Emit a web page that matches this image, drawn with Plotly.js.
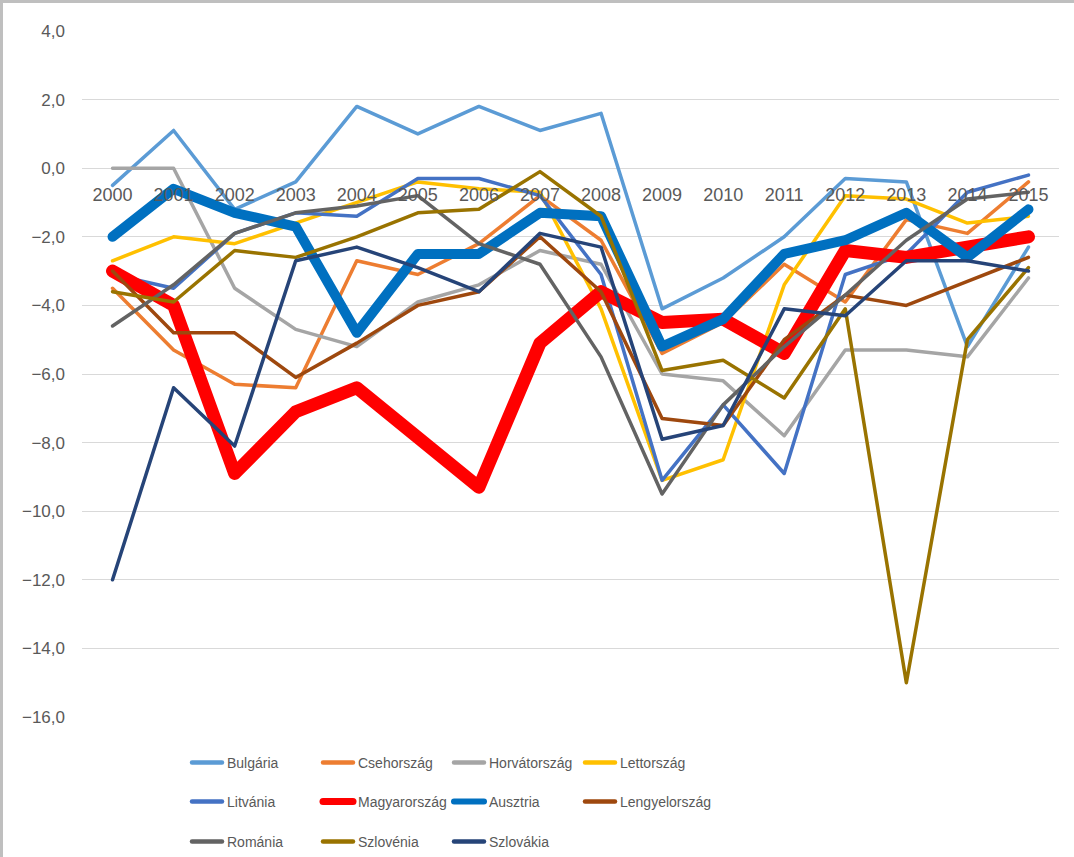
<!DOCTYPE html>
<html><head><meta charset="utf-8">
<script src="https://cdn.plot.ly/plotly-3.0.1.min.js"></script>
<style>
html,body{margin:0;padding:0;background:#fff;}
#wrap{position:relative;width:1074px;height:857px;}
#chart{position:absolute;left:0;top:0;width:1074px;height:857px;}
.bL{position:absolute;left:0;top:0;width:3px;height:857px;background:#BFBFBF;}
.bT{position:absolute;left:0;top:0;width:1074px;height:3px;background:#BFBFBF;}
.js-line{stroke-linecap:round !important;stroke-linejoin:round !important;}
.legendlines path{stroke-linecap:round !important;stroke-width:4.5px !important;}
.legendlines path[style*="rgb(255, 0, 0)"]{stroke-width:7px !important;}
.legendlines path[style*="rgb(0, 112, 192)"]{stroke-width:6px !important;}
</style></head>
<body><div id="wrap"><div id="chart"></div><div class="bL"></div><div class="bT"></div></div>
<script>
const years = ['2000','2001','2002','2003','2004','2005','2006','2007','2008','2009','2010','2011','2012','2013','2014','2015'];
const bulgaria  = [-0.5, 1.1, -1.2, -0.4, 1.8, 1.0, 1.8, 1.1, 1.6, -4.1, -3.2, -2.0, -0.3, -0.4, -5.2, -2.3];
const cseh      = [-3.5, -5.3, -6.3, -6.4, -2.7, -3.1, -2.2, -0.8, -2.1, -5.4, -4.5, -2.8, -3.9, -1.5, -1.9, -0.4];
const horvat    = [0.0, 0.0, -3.5, -4.7, -5.2, -3.9, -3.4, -2.4, -2.8, -6.0, -6.2, -7.8, -5.3, -5.3, -5.5, -3.2];
const lett      = [-2.7, -2.0, -2.2, -1.6, -1.0, -0.4, -0.6, -0.7, -4.1, -9.1, -8.5, -3.4, -0.8, -0.9, -1.6, -1.4];
const litv      = [-3.1, -3.5, -1.9, -1.3, -1.4, -0.3, -0.3, -0.8, -3.1, -9.1, -6.9, -8.9, -3.1, -2.5, -0.7, -0.2];
const magyar    = [-3.0, -4.0, -8.9, -7.1, -6.4, -7.8, -9.3, -5.1, -3.6, -4.5, -4.4, -5.4, -2.4, -2.6, -2.3, -2.0];
const ausztria  = [-2.0, -0.6, -1.3, -1.7, -4.8, -2.5, -2.5, -1.3, -1.4, -5.2, -4.4, -2.5, -2.1, -1.3, -2.6, -1.2];
const lengyel   = [-3.0, -4.8, -4.8, -6.1, -5.1, -4.0, -3.6, -2.0, -3.6, -7.3, -7.5, -5.0, -3.7, -4.0, -3.3, -2.6];
const romania   = [-4.6, -3.4, -1.9, -1.3, -1.1, -0.8, -2.2, -2.8, -5.5, -9.5, -6.9, -5.2, -3.7, -2.1, -0.9, -0.7];
const slovenia  = [-3.6, -3.9, -2.4, -2.6, -2.0, -1.3, -1.2, -0.1, -1.4, -5.9, -5.6, -6.7, -4.1, -15.0, -5.0, -2.9];
const slovakia  = [-12.0, -6.4, -8.1, -2.7, -2.3, -2.9, -3.6, -1.9, -2.3, -7.9, -7.5, -4.1, -4.3, -2.7, -2.7, -3.0];
const yTicks    = [4, 2, 0, -2, -4, -6, -8, -10, -12, -14, -16];

const series = [
  {name:'Bulgária', y:bulgaria, color:'#5B9BD5', w:3.5, lg:'legend'},
  {name:'Csehország', y:cseh, color:'#ED7D31', w:3.5, lg:'legend'},
  {name:'Horvátország', y:horvat, color:'#A5A5A5', w:3.5, lg:'legend'},
  {name:'Lettország', y:lett, color:'#FFC000', w:3.5, lg:'legend'},
  {name:'Litvánia', y:litv, color:'#4472C4', w:3.5, lg:'legend2'},
  {name:'Magyarország', y:magyar, color:'#FF0000', w:13, lg:'legend2'},
  {name:'Ausztria', y:ausztria, color:'#0070C0', w:10, lg:'legend2'},
  {name:'Lengyelország', y:lengyel, color:'#9E480E', w:3.5, lg:'legend2'},
  {name:'Románia', y:romania, color:'#636363', w:3.5, lg:'legend3'},
  {name:'Szlovénia', y:slovenia, color:'#997300', w:3.5, lg:'legend3'},
  {name:'Szlovákia', y:slovakia, color:'#264478', w:3.5, lg:'legend3'}
];

const traces = series.map(s => ({
  type:'scatter', mode:'lines', x:years, y:s.y, name:s.name,
  line:{color:s.color, width:s.w}, legend:s.lg, hoverinfo:'x+y+name'
}));

const legFont = {family:'"Liberation Sans", Arial, sans-serif', size:14, color:'#595959'};
function mkLeg(yPix){
  return {orientation:'h', xref:'container', yref:'container', x:187/1074, xanchor:'left',
    y:1 - yPix/857, yanchor:'middle',
    font:legFont, entrywidth:86, entrywidthmode:'pixels', bgcolor:'rgba(0,0,0,0)', traceorder:'normal'};
}

const layout = {
  width:1074, height:857,
  margin:{l:82, r:15, t:31, b:140, autoexpand:false},
  paper_bgcolor:'#fff', plot_bgcolor:'#fff',
  separators:', ',
  showlegend:true,
  font:{family:'"Liberation Sans", Arial, sans-serif', color:'#595959'},
  xaxis:{type:'category', anchor:'free', position:0.8, showgrid:false, zeroline:false,
    showline:false, ticks:'', ticklabelstandoff:14, tickfont:{size:18, color:'#595959'}, range:[-0.5, 15.5], fixedrange:true},
  yaxis:{range:[-16, 4], tickvals:yTicks, tickformat:'.1f', showgrid:true, gridcolor:'#D9D9D9', gridwidth:1.3,
    zeroline:true, zerolinecolor:'#D9D9D9', zerolinewidth:1.3, showline:false, ticks:'',
    ticklabelstandoff:16, tickfont:{size:17, color:'#595959'}, fixedrange:true},
  legend:mkLeg(763),
  legend2:mkLeg(802),
  legend3:mkLeg(842)
};

Plotly.newPlot('chart', traces, layout, {displayModeBar:false});
</script></body></html>
